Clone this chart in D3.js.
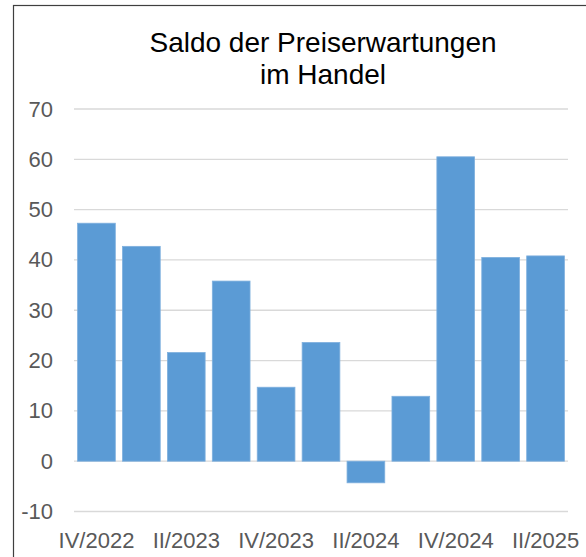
<!DOCTYPE html>
<html>
<head>
<meta charset="utf-8">
<script src="https://cdn.jsdelivr.net/npm/d3@7"></script>
<style>
  body { margin: 0; background: #fff; }
  svg text { font-family: "Liberation Sans", Arial, sans-serif; }
</style>
</head>
<body>
<div id="chart"></div>
<script>
const quarters = ['IV/2022', 'I/2023', 'II/2023', 'III/2023', 'IV/2023', 'I/2024',
    'II/2024', 'III/2024', 'IV/2024', 'I/2025', 'II/2025']
const saldo = [47.3, 42.7, 21.6, 35.8, 14.7, 23.6, -4.3, 12.9, 60.5, 40.5, 40.8]
const yTicks = [-10, 0, 10, 20, 30, 40, 50, 60, 70]
const titleLines = ['Saldo der Preiserwartungen', 'im Handel']

const width = 586
const height = 557
const plot = { left: 74, right: 568, top: 109, bottom: 511.5 }

const svg = d3.select('#chart')
    .append('svg')
    .attr('width', width)
    .attr('height', height)

// frame of the chart area (runs past the right and bottom edge)
svg.append('rect')
    .attr('x', 13.5)
    .attr('y', 5.5)
    .attr('width', 600)
    .attr('height', 600)
    .attr('fill', '#fff')
    .attr('stroke', '#3f3f3f')
    .attr('stroke-width', 1.2)

const x = d3.scaleBand()
    .domain(quarters)
    .range([plot.left, plot.right])
    .paddingInner(0.16)
    .paddingOuter(0.08)

const y = d3.scaleLinear()
    .domain([-10, 70])
    .range([plot.bottom, plot.top])

// gridlines
svg.append('g')
    .selectAll('line')
    .data(yTicks)
    .enter()
    .append('line')
    .attr('x1', plot.left)
    .attr('x2', plot.right)
    .attr('y1', (d) => y(d))
    .attr('y2', (d) => y(d))
    .attr('stroke', '#d9d9d9')
    .attr('stroke-width', 1.3)

// y axis labels (plain hyphen for negatives, like the original)
const yAxis = d3.axisLeft(y)
    .tickValues(yTicks)
    .tickFormat((d) => String(d))
    .tickSize(0)
    .tickPadding(21)
svg.append('g')
    .attr('transform', `translate(${plot.left}, 0)`)
    .call(yAxis)
    .call((g) => g.select('.domain').remove())
    .call((g) => g.selectAll('text')
        .attr('fill', '#595959')
        .attr('font-size', '22px')
        .attr('font-family', '"Liberation Sans", Arial, sans-serif'))

// bars
svg.append('g')
    .selectAll('rect')
    .data(saldo)
    .enter()
    .append('rect')
    .attr('x', (d, i) => x(quarters[i]))
    .attr('y', (d) => y(Math.max(0, d)))
    .attr('width', x.bandwidth())
    .attr('height', (d) => Math.abs(y(d) - y(0)))
    .attr('fill', '#5b9bd5')
    .attr('stroke', '#7fb0de')
    .attr('stroke-width', 0.8)

// x axis labels, every second quarter
const xAxis = d3.axisBottom(x)
    .tickValues(quarters.filter((q, i) => i % 2 === 0))
    .tickSize(0)
    .tickPadding(0)
svg.append('g')
    .attr('transform', `translate(0, ${plot.bottom})`)
    .call(xAxis)
    .call((g) => g.select('.domain').remove())
    .call((g) => g.selectAll('text')
        .attr('dy', null)
        .attr('y', 36)
        .attr('fill', '#595959')
        .attr('font-size', '22px')
        .attr('font-family', '"Liberation Sans", Arial, sans-serif'))

// title
svg.append('text')
    .attr('text-anchor', 'middle')
    .attr('font-size', '28px')
    .attr('fill', '#000')
    .selectAll('tspan')
    .data(titleLines)
    .enter()
    .append('tspan')
    .attr('x', 323)
    .attr('y', (d, i) => 51.5 + i * 32)
    .text((d) => d)
</script>
</body>
</html>
